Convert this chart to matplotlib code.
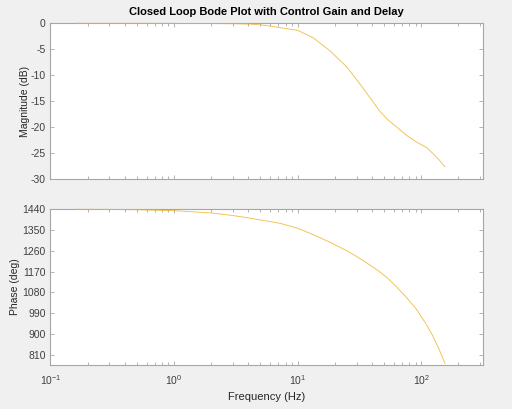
import numpy as np
import matplotlib
matplotlib.use("Agg")
import matplotlib.pyplot as plt
from matplotlib.ticker import LogLocator, FixedLocator

# Data
freq_hz = [0.159, 0.3, 0.5, 1.0, 2.0, 3.0, 4.17, 5.5, 7.26, 10, 13.4, 18.3,
           24.9, 29.1, 33.9, 39.6, 46, 54, 63, 75.7, 91, 110, 124, 140, 156]
mag_db = [0.0, 0.0, 0.0, -0.02, -0.05, -0.08, -0.15, -0.4, -0.84, -1.35, -2.8, -5.3,
          -8.35, -10.4, -12.5, -14.7, -16.85, -18.6, -19.9, -21.5, -22.8, -23.85,
          -25.0, -26.3, -27.6]
phase_deg = [1440, 1439.5, 1438, 1434, 1424, 1413, 1401, 1390, 1379, 1358, 1330, 1297,
             1261, 1240, 1218, 1194, 1170, 1140, 1105, 1059, 1009, 942, 892, 832, 772]
mag_ticks = [-30, -25, -20, -15, -10, -5, 0]
phase_ticks = [810, 900, 990, 1080, 1170, 1260, 1350, 1440]

plt.rcParams['font.family'] = ['Liberation Sans', 'DejaVu Sans']
plt.rcParams['axes.unicode_minus'] = False
plt.rcParams['mathtext.fontset'] = 'custom'
plt.rcParams['mathtext.rm'] = 'Liberation Sans'
plt.rcParams['mathtext.it'] = 'Liberation Sans:italic'
plt.rcParams['mathtext.bf'] = 'Liberation Sans:bold'
line_color = '#EDB120'
spine_color = '#a6a6a6'
text_color = '#404040'

fig = plt.figure(figsize=(5.12, 4.09), dpi=100, facecolor='#f0f0f0')
ax1 = fig.add_axes([0.0986, 0.5616, 0.8447, 0.3814])
ax2 = fig.add_axes([0.0986, 0.1083, 0.8447, 0.3800])

ax1.plot(freq_hz, mag_db, color=line_color, lw=0.65, alpha=0.8, clip_on=False, zorder=5)
ax2.plot(freq_hz, phase_deg, color=line_color, lw=0.65, alpha=0.8, clip_on=False, zorder=5)

for ax in (ax1, ax2):
    ax.set_facecolor('white')
    ax.set_xscale('log')
    ax.set_xlim(0.1, 316.2)
    for s in ax.spines.values():
        s.set_color(spine_color)
        s.set_linewidth(0.8)
    ax.tick_params(which='both', direction='in', top=True, right=True,
                   color=spine_color, labelcolor=text_color, labelsize=7.5, width=0.6)
    ax.tick_params(which='major', length=3)
    ax.tick_params(which='minor', length=2)
    ax.tick_params(axis='x', which='major', pad=6)
    ax.xaxis.set_major_locator(LogLocator(base=10, numticks=10))
    ax.xaxis.set_minor_locator(LogLocator(base=10, subs=np.arange(2, 10), numticks=20))

ax1.set_ylim(-30, 0)
ax1.yaxis.set_major_locator(FixedLocator(mag_ticks))
ax1.tick_params(axis='x', which='both', labelbottom=False)
ax1.set_ylabel('Magnitude (dB)', fontsize=7.5, color='#262626')
ax1.yaxis.set_label_coords(-0.0485, 0.5)
ax1.set_title('Closed Loop Bode Plot with Control Gain and Delay',
              fontsize=8, fontweight='bold', color='black', pad=6)

ax2.set_ylim(767, 1440)
ax2.yaxis.set_major_locator(FixedLocator(phase_ticks))
ax2.set_ylabel('Phase (deg)', fontsize=7.5, color='#262626')
ax2.yaxis.set_label_coords(-0.071, 0.5)
ax2.set_xlabel('Frequency (Hz)', fontsize=8, color='#262626', labelpad=4)

fig.savefig('out.png', dpi=100, facecolor=fig.get_facecolor())
